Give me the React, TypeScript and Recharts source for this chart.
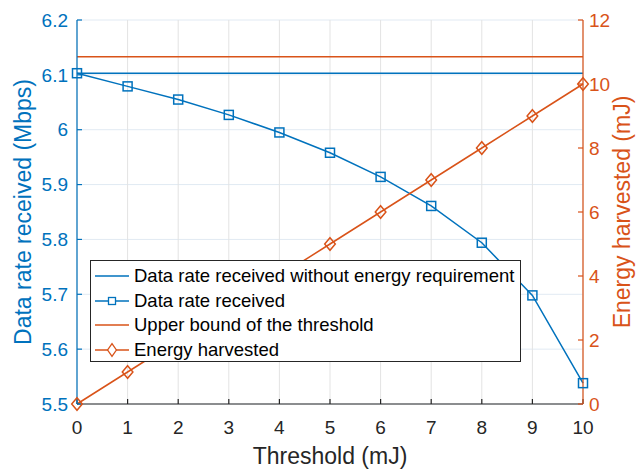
import {
  ComposedChart, Line, XAxis, YAxis, CartesianGrid, Legend,
} from 'recharts';

const FONT = '"Liberation Sans", Arial, Helvetica, sans-serif';
const BLUE = '#0072BD';
const ORANGE = '#D95319';
const DARK = '#262626';

// threshold values (mJ) along the x axis
const thresholds = [0, 1, 2, 3, 4, 5, 6, 7, 8, 9, 10];
// left axis series (Mbps)
const rateNoEnergy = [6.103, 6.103, 6.103, 6.103, 6.103, 6.103, 6.103, 6.103, 6.103, 6.103, 6.103];
const rateReceived = [6.103, 6.079, 6.055, 6.027, 5.995, 5.958, 5.914, 5.861, 5.794, 5.698, 5.538];
// right axis series (mJ)
const upperBound = [10.85, 10.85, 10.85, 10.85, 10.85, 10.85, 10.85, 10.85, 10.85, 10.85, 10.85];
const energyHarvested = [0, 1, 2, 3, 4, 5, 6, 7, 8, 9, 10];

const xTicks = [0, 1, 2, 3, 4, 5, 6, 7, 8, 9, 10];
const leftTicks = [5.5, 5.6, 5.7, 5.8, 5.9, 6.0, 6.1, 6.2];
const rightTicks = [0, 2, 4, 6, 8, 10, 12];

const legendLabels = [
  'Data rate received without energy requirement',
  'Data rate received',
  'Upper bound of the threshold',
  'Energy harvested',
];

const chartData = thresholds.map((x, i) => ({
  x,
  base: rateNoEnergy[i],
  rate: rateReceived[i],
  upper: upperBound[i],
  energy: energyHarvested[i],
}));

type DotProps = { cx?: number; cy?: number };

function SquareDot({ cx, cy }: DotProps) {
  if (cx == null || cy == null) return null;
  return <rect x={cx - 4.5} y={cy - 4.5} width={9} height={9} fill="none" stroke={BLUE} strokeWidth={1.5} />;
}

function DiamondDot({ cx, cy }: DotProps) {
  if (cx == null || cy == null) return null;
  return (
    <path
      d={`M${cx},${cy - 6.3}L${cx + 5.3},${cy}L${cx},${cy + 6.3}L${cx - 5.3},${cy}Z`}
      fill="none"
      stroke={ORANGE}
      strokeWidth={1.5}
    />
  );
}

const legendItems = [
  { label: legendLabels[0], color: BLUE, marker: 'none' },
  { label: legendLabels[1], color: BLUE, marker: 'square' },
  { label: legendLabels[2], color: ORANGE, marker: 'none' },
  { label: legendLabels[3], color: ORANGE, marker: 'diamond' },
];

function LegendBox() {
  return (
    <div
      style={{
        boxSizing: 'border-box', width: 431, height: 102, border: `1px solid ${DARK}`,
        background: '#fff', padding: '3px 0', fontFamily: FONT, fontSize: 18.5, color: '#000',
      }}
    >
      {legendItems.map((item) => (
        <div
          key={item.label}
          style={{ display: 'flex', alignItems: 'center', height: 24.5, lineHeight: '24.5px', whiteSpace: 'nowrap' }}
        >
          <svg width={42} height={24} style={{ flex: 'none' }}>
            <line x1={4} x2={38} y1={12} y2={12} stroke={item.color} strokeWidth={1.5} />
            {item.marker === 'square' && (
              <rect x={17.5} y={8.5} width={7} height={7} fill="#fff" stroke={item.color} strokeWidth={1.3} />
            )}
            {item.marker === 'diamond' && (
              <path d="M21,5.7L25.4,12L21,18.3L16.6,12Z" fill="#fff" stroke={item.color} strokeWidth={1.3} />
            )}
          </svg>
          <span style={{ marginLeft: 1 }}>{item.label}</span>
        </div>
      ))}
    </div>
  );
}

const fmtLeft = (v: number) => String(Number(v.toFixed(1)));

export default function App() {
  return (
    <div style={{ position: 'absolute', left: 0, top: 0, background: '#fff' }}>
      <ComposedChart width={636} height={470} data={chartData} margin={{ top: 20, right: 0, bottom: 0, left: 0 }}>
        <CartesianGrid xAxisId="bottom" yAxisId="left" vertical={false} stroke="#e1eaf3" strokeWidth={1} />
        <CartesianGrid xAxisId="bottom" yAxisId="left" horizontal={false} stroke="#e3e3e3" strokeWidth={1} />
        <XAxis
          xAxisId="bottom"
          dataKey="x"
          type="number"
          domain={[0, 10]}
          ticks={xTicks}
          interval={0}
          height={66}
          stroke={DARK}
          strokeWidth={1.2}
          tickSize={-5}
          tickMargin={22}
          tick={{ fill: DARK, fontSize: 19, fontFamily: FONT }}
          label={{ value: 'Threshold (mJ)', position: 'center', dy: 19, fill: DARK, fontSize: 23, fontFamily: FONT }}
        />
        <XAxis
          xAxisId="top"
          orientation="top"
          dataKey="x"
          type="number"
          domain={[0, 10]}
          ticks={xTicks}
          interval={0}
          height={0}
          stroke={DARK}
          strokeWidth={1.2}
          tickSize={-5}
          tickFormatter={() => ''}
        />
        <YAxis
          yAxisId="left"
          type="number"
          domain={[5.5, 6.2]}
          ticks={leftTicks}
          interval={0}
          width={77}
          stroke={BLUE}
          strokeWidth={1.2}
          tickSize={-5}
          tickMargin={14}
          tickFormatter={fmtLeft}
          tick={{ fill: BLUE, fontSize: 19, fontFamily: FONT }}
          label={{
            value: 'Data rate received (Mbps)', angle: -90, position: 'center', dx: -16,
            fill: BLUE, fontSize: 23, fontFamily: FONT,
          }}
        />
        <YAxis
          yAxisId="right"
          orientation="right"
          type="number"
          domain={[0, 12]}
          ticks={rightTicks}
          interval={0}
          width={53}
          stroke={ORANGE}
          strokeWidth={1.2}
          tickSize={-5}
          tickMargin={11}
          tick={{ fill: ORANGE, fontSize: 19, fontFamily: FONT }}
          label={{
            value: 'Energy harvested (mJ)', angle: -90, position: 'center', dx: 12,
            fill: ORANGE, fontSize: 23, fontFamily: FONT,
          }}
        />
        <Line xAxisId="bottom" yAxisId="left" dataKey="base" stroke={BLUE} strokeWidth={1.5} dot={false} isAnimationActive={false} />
        <Line xAxisId="bottom" yAxisId="left" dataKey="rate" stroke={BLUE} strokeWidth={1.5} dot={<SquareDot />} isAnimationActive={false} />
        <Line xAxisId="bottom" yAxisId="right" dataKey="upper" stroke={ORANGE} strokeWidth={1.5} dot={false} isAnimationActive={false} />
        <Line xAxisId="bottom" yAxisId="right" dataKey="energy" stroke={ORANGE} strokeWidth={1.5} dot={<DiamondDot />} isAnimationActive={false} />
        <Legend
          layout="vertical"
          align="center"
          verticalAlign="middle"
          width={431}
          content={<LegendBox />}
          wrapperStyle={{ left: 90, top: 260, width: 431, height: 102 }}
        />
      </ComposedChart>
    </div>
  );
}
